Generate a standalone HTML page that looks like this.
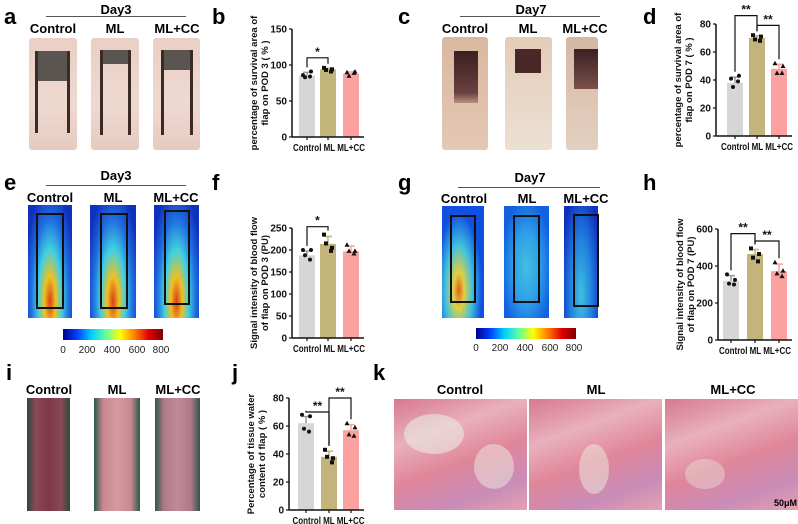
<!DOCTYPE html>
<html><head><meta charset="utf-8">
<style>
body{margin:0;background:#fff;width:798px;height:524px;overflow:hidden;position:relative;font-family:"Liberation Sans",Arial,sans-serif}
.abs{position:absolute}
.lt{position:absolute;font-weight:bold;font-size:22px;line-height:22px}
.gl{position:absolute;font-weight:bold;font-size:13px;text-align:center;width:60px;margin-left:-30px}
.day{position:absolute;font-weight:bold;font-size:13px;text-align:center;width:60px;margin-left:-30px}
.hr{position:absolute;height:1px;background:#555}
.skin{position:absolute;background:linear-gradient(180deg,#e9cfc4,#efd9cf 60%,#e6cac0);border-radius:3px}
.heat{position:absolute;background:radial-gradient(ellipse at 50% 85%,#d8401a 0%,#f0c020 18%,#40d0e0 38%,#2070e0 60%,#1030c0 85%);}
.box{position:absolute;border:2px solid #111;box-sizing:border-box}
.tis{position:absolute;background:linear-gradient(160deg,#d77890 0%,#e9b0bd 30%,#e0869a 55%,#c98cb8 80%,#e5a0b0 100%)}
svg text{font-family:"Liberation Sans",Arial,sans-serif}
</style></head><body>
<div class="lt" style="left:4px;top:6px">a</div>
<div class="lt" style="left:212px;top:6px">b</div>
<div class="lt" style="left:398px;top:6px">c</div>
<div class="lt" style="left:643px;top:6px">d</div>
<div class="lt" style="left:4px;top:172px">e</div>
<div class="lt" style="left:212px;top:172px">f</div>
<div class="lt" style="left:398px;top:172px">g</div>
<div class="lt" style="left:643px;top:172px">h</div>
<div class="lt" style="left:6px;top:362px">i</div>
<div class="lt" style="left:232px;top:362px">j</div>
<div class="lt" style="left:373px;top:362px">k</div>

<!-- a -->
<div class="day" style="left:116px;top:2px">Day3</div>
<div class="hr" style="left:46px;top:16px;width:140px"></div>
<div class="gl" style="left:53px;top:21px">Control</div>
<div class="gl" style="left:115px;top:21px">ML</div>
<div class="gl" style="left:177px;top:21px">ML+CC</div>
<div class="skin" style="left:29px;top:38px;width:48px;height:112px"><div class="abs" style="left:8px;top:13px;width:32px;height:30px;background:#5a5550"></div><div class="abs" style="left:6px;top:13px;width:3px;height:82px;background:#3a2a28"></div><div class="abs" style="left:38px;top:13px;width:3px;height:82px;background:#3a2a28"></div></div>
<div class="skin" style="left:91px;top:38px;width:48px;height:112px"><div class="abs" style="left:10px;top:12px;width:28px;height:14px;background:#5a5550"></div><div class="abs" style="left:9px;top:12px;width:3px;height:85px;background:#3a2a28"></div><div class="abs" style="left:37px;top:12px;width:3px;height:85px;background:#3a2a28"></div></div>
<div class="skin" style="left:153px;top:38px;width:47px;height:112px"><div class="abs" style="left:9px;top:12px;width:30px;height:20px;background:#5a5550"></div><div class="abs" style="left:8px;top:12px;width:3px;height:85px;background:#3a2a28"></div><div class="abs" style="left:37px;top:12px;width:3px;height:85px;background:#3a2a28"></div></div>

<!-- c -->
<div class="day" style="left:531px;top:2px">Day7</div>
<div class="hr" style="left:460px;top:16px;width:140px"></div>
<div class="gl" style="left:465px;top:21px">Control</div>
<div class="gl" style="left:528px;top:21px">ML</div>
<div class="gl" style="left:585px;top:21px">ML+CC</div>
<div class="skin" style="left:442px;top:37px;width:46px;height:113px;background:linear-gradient(180deg,#d9b8a0,#e4c8b4)"><div class="abs" style="left:12px;top:14px;width:24px;height:52px;background:linear-gradient(180deg,#3a2020,#6a4040 80%,#b89080)"></div></div>
<div class="skin" style="left:505px;top:37px;width:47px;height:113px;background:linear-gradient(180deg,#e4ccb8,#ece0d4)"><div class="abs" style="left:10px;top:12px;width:26px;height:24px;background:#4a2828"></div></div>
<div class="skin" style="left:566px;top:37px;width:32px;height:113px;background:linear-gradient(180deg,#d4b8a4,#e4d0c0)"><div class="abs" style="left:8px;top:12px;width:24px;height:40px;background:linear-gradient(180deg,#3a2020,#7a5048)"></div></div>

<!-- e -->
<div class="day" style="left:116px;top:168px">Day3</div>
<div class="hr" style="left:46px;top:185px;width:140px"></div>
<div class="gl" style="left:50px;top:190px">Control</div>
<div class="gl" style="left:113px;top:190px">ML</div>
<div class="gl" style="left:176px;top:190px">ML+CC</div>
<div class="heat" style="left:28px;top:205px;width:44px;height:113px"><div class="box" style="left:8px;top:8px;width:28px;height:96px"></div></div>
<div class="heat" style="left:90px;top:205px;width:46px;height:113px"><div class="box" style="left:10px;top:8px;width:28px;height:96px"></div></div>
<div class="heat" style="left:154px;top:205px;width:45px;height:113px"><div class="box" style="left:10px;top:5px;width:26px;height:95px"></div></div>
<div class="abs" style="left:63px;top:329px;width:100px;height:11px;background:linear-gradient(90deg,#00008f,#0040ff,#00d0ff,#60ffa0,#ffff00,#ff8000,#e00000,#800000)"></div>
<svg class="abs" style="left:55px;top:342px" width="120" height="14"><g font-size="10" text-anchor="middle" fill="#222"><text x="8" y="11">0</text><text x="32" y="11">200</text><text x="57" y="11">400</text><text x="82" y="11">600</text><text x="106" y="11">800</text></g></svg>

<!-- g -->
<div class="day" style="left:530px;top:170px">Day7</div>
<div class="hr" style="left:458px;top:187px;width:142px"></div>
<div class="gl" style="left:464px;top:191px">Control</div>
<div class="gl" style="left:527px;top:191px">ML</div>
<div class="gl" style="left:586px;top:191px">ML+CC</div>
<div class="heat" style="left:442px;top:206px;width:42px;height:112px;background:radial-gradient(ellipse at 40% 75%,#e06020 0%,#e0d040 15%,#40c0e0 38%,#1050e0 65%)"><div class="box" style="left:8px;top:9px;width:26px;height:88px"></div></div>
<div class="heat" style="left:504px;top:206px;width:45px;height:112px;background:radial-gradient(ellipse at 50% 55%,#40c0e0 0%,#30a0e8 40%,#1060e0 80%)"><div class="box" style="left:9px;top:9px;width:27px;height:88px"></div></div>
<div class="heat" style="left:564px;top:206px;width:34px;height:112px;background:radial-gradient(ellipse at 50% 80%,#40c0e0 0%,#2080e0 45%,#1030c0 85%)"><div class="box" style="left:9px;top:8px;width:26px;height:93px"></div></div>
<div class="abs" style="left:476px;top:328px;width:100px;height:11px;background:linear-gradient(90deg,#00008f,#0040ff,#00d0ff,#60ffa0,#ffff00,#ff8000,#e00000,#800000)"></div>
<svg class="abs" style="left:468px;top:340px" width="120" height="14"><g font-size="10" text-anchor="middle" fill="#222"><text x="8" y="11">0</text><text x="32" y="11">200</text><text x="57" y="11">400</text><text x="82" y="11">600</text><text x="106" y="11">800</text></g></svg>

<!-- i -->
<div class="gl" style="left:49px;top:382px">Control</div>
<div class="gl" style="left:117px;top:382px">ML</div>
<div class="gl" style="left:178px;top:382px">ML+CC</div>
<div class="abs" style="left:27px;top:398px;width:43px;height:113px;background:linear-gradient(90deg,#2a4a3a,#8a4858 20%,#7a3848 50%,#8a4858 80%,#2a4a3a)"></div>
<div class="abs" style="left:94px;top:398px;width:46px;height:113px;background:linear-gradient(90deg,#2a5a48,#c88890 20%,#d49aa0 50%,#c88890 80%,#2a5a48)"></div>
<div class="abs" style="left:155px;top:398px;width:45px;height:113px;background:linear-gradient(90deg,#2a5a48,#b07888 20%,#c08a98 50%,#b07888 80%,#2a5a48)"></div>

<!-- k -->
<div class="gl" style="left:460px;top:382px">Control</div>
<div class="gl" style="left:596px;top:382px">ML</div>
<div class="gl" style="left:733px;top:382px">ML+CC</div>
<div class="tis" style="left:394px;top:399px;width:133px;height:111px"><div class="abs" style="left:10px;top:15px;width:60px;height:40px;background:rgba(235,235,225,.6);border-radius:50%"></div><div class="abs" style="left:80px;top:45px;width:40px;height:45px;background:rgba(235,235,225,.5);border-radius:50%"></div></div>
<div class="tis" style="left:529px;top:399px;width:133px;height:111px"><div class="abs" style="left:50px;top:45px;width:30px;height:50px;background:rgba(235,235,225,.5);border-radius:50%"></div></div>
<div class="tis" style="left:665px;top:399px;width:133px;height:111px"><div class="abs" style="left:20px;top:60px;width:40px;height:30px;background:rgba(235,235,225,.4);border-radius:50%"></div></div>
<div class="abs" style="left:774px;top:498px;font-size:9px;font-weight:bold">50μM</div>

<svg id="charts" class="abs" style="left:0;top:0" width="798" height="524"></svg>
<script>
// ---- data ----
const cats = ["Control","ML","ML+CC"];
const bMeans = [85, 94, 88];
const bPts = [[86,91,83,84],[96,94,93,91],[90,91,85,89]];
const bTicks = [0,50,100,150];
const dMeans = [38, 70, 48];
const dPts = [[41,43,35,39],[72,71,69,68],[52,50,45,45]];
const dTicks = [0,20,40,60,80];
const fMeans = [188, 214, 197];
const fPts = [[200,200,188,178],[235,205,215,198],[212,198,198,192]];
const fTicks = [0,50,100,150,200,250];
const hMeans = [320, 465, 372];
const hPts = [[355,325,305,300],[495,465,445,425],[420,375,360,345]];
const hTicks = [0,200,400,600];
const jMeans = [62, 38, 57];
const jPts = [[68,67,58,56],[43,37,38,34],[62,59,54,53]];
const jTicks = [0,20,40,60,80];
const colors = ["#d6d6d6","#c2b47a","#fca0a0"];
const NS="http://www.w3.org/2000/svg";
const svg=document.getElementById('charts');
function mk(tag,attrs,parent){const e=document.createElementNS(NS,tag);for(const k in attrs)e.setAttribute(k,attrs[k]);(parent||svg).appendChild(e);return e;}
function chart(id,means,pts,ticks,ax,y0,yTop,bx,title,sig){
  const g=mk('g',{});
  
  
  const vmax=ticks[ticks.length-1];
  const Y=v=>y0-(v/vmax)*(y0-yTop);
  const bw=16;
  means.forEach((m,i)=>{
    const r=mk('rect',{x:bx[i],y:Y(m),width:bw,height:y0-Y(m),fill:colors[i]},g);
    
    
    const cx=bx[i]+bw/2;
    const sd=Math.max(...pts[i])-m;
    mk('line',{x1:cx,x2:cx,y1:Y(m),y2:Y(m+sd*0.8),stroke:i==0?'#999':colors[i],'stroke-width':1.5},g);
    mk('line',{x1:cx-4,x2:cx+4,y1:Y(m+sd*0.8),y2:Y(m+sd*0.8),stroke:i==0?'#999':colors[i],'stroke-width':1.5},g);
    pts[i].forEach((p,k)=>{
      const px=cx+[-4,4,-2,3][k];
      if(i==0) mk('circle',{cx:px,cy:Y(p),r:2,fill:'#111'},g);
      else if(i==1) mk('rect',{x:px-2,y:Y(p)-2,width:4,height:4,fill:'#111'},g);
      else mk('polygon',{points:`${px},${Y(p)-2.5} ${px-2.5},${Y(p)+2} ${px+2.5},${Y(p)+2}`,fill:'#111'},g);
    });
    mk('line',{x1:cx,x2:cx,y1:y0,y2:y0+3,stroke:'#111','stroke-width':1.2},g);
  });
  mk('line',{x1:ax,x2:ax,y1:yTop,y2:y0,stroke:'#111','stroke-width':1.5},g);
  mk('line',{x1:ax,x2:bx[2]+bw+5,y1:y0,y2:y0,stroke:'#111','stroke-width':1.5},g);
  ticks.forEach(t=>{
    mk('line',{x1:ax-3,x2:ax,y1:Y(t),y2:Y(t),stroke:'#111','stroke-width':1.2},g);
    const tx=mk('text',{x:ax-5,y:Y(t)+3.5,'font-size':10,'font-weight':'bold','text-anchor':'end',fill:'#111'},g);
    tx.textContent=t;
  });
  const cxm=(bx[0]+bx[2]+bw)/2;
  const lab=mk('text',{x:cxm-36,y:y0+14,'font-size':10,'font-weight':'bold',fill:'#111',textLength:72,lengthAdjust:'spacingAndGlyphs'},g);
  lab.textContent="Control ML ML+CC";
  const tl=mk('text',{transform:`translate(${ax-30},${(y0+yTop)/2}) rotate(-90)`,'font-size':9.5,'font-weight':'bold','text-anchor':'middle',fill:'#111'},g);
  title.forEach((s,k)=>{const ts=mk('tspan',{x:0,dy:k==0?-5:11},tl);ts.textContent=s;});
  sig.forEach(s=>{
    const [a,b,yv,txt]=s;
    const xa=bx[a]+bw/2,xb=bx[b]+bw/2,yy=Y(yv);
    mk('path',{d:`M${xa},${Y(Math.max(...pts[a]))-4}V${yy}H${xb}V${Y(Math.max(...pts[b]))-4}`,fill:'none',stroke:'#111','stroke-width':1.2},g);
    const st=mk('text',{x:(xa+xb)/2,y:yy-2,'font-size':12,'font-weight':'bold','text-anchor':'middle',fill:'#111'},g);
    st.textContent=txt;
  });
}
chart('chart-b',bMeans,bPts,bTicks,292,137,29,[299,320,343],["percentage of survival area of","flap on POD 3 ( % )"],[[0,1,110,'*']]);
chart('chart-d',dMeans,dPts,dTicks,716,136,24,[727,749,771],["percentage of survival area of","flap on POD 7 ( % )"],[[0,1,86,'**'],[1,2,79,'**']]);
chart('chart-f',fMeans,fPts,fTicks,292,338,228,[299,320,343],["Signal intensity of blood flow","of flap on POD 3  (PU)"],[[0,1,253,'*']]);
chart('chart-h',hMeans,hPts,hTicks,718,340,229,[723,747,771],["Signal intensity of blood flow","of flap on POD 7  (PU)"],[[0,1,575,'**'],[1,2,535,'**']]);
chart('chart-j',jMeans,jPts,jTicks,289,510,398,[298,321,343],["Percentage of tissue water","content of flap ( % )"],[[0,1,70,'**'],[1,2,80,'**']]);
</script>
</body></html>
